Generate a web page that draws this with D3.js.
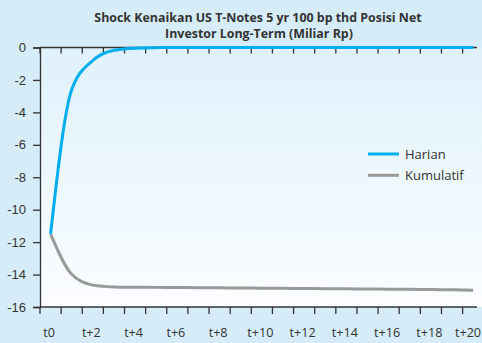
<!DOCTYPE html>
<html>
<head>
<meta charset="utf-8">
<script src="https://cdn.jsdelivr.net/npm/d3@7"></script>
<style>
  body { margin: 0; background: #d6ecf8; }
  svg { display: block; }
</style>
</head>
<body>
<script>
/*data*/
const periods = ['t0','t+1','t+2','t+3','t+4','t+5','t+6','t+7','t+8','t+9','t+10',
  't+11','t+12','t+13','t+14','t+15','t+16','t+17','t+18','t+19','t+20'];
const harian = [-11.5, -2.6, -0.8, -0.17, -0.04, -0.01, 0, 0, 0, 0, 0,
  0, 0, 0, 0, 0, 0, 0, 0, 0, 0];
const kumulatif = [-11.5, -13.98, -14.65, -14.76, -14.78, -14.79, -14.8, -14.81, -14.82, -14.83, -14.84,
  -14.85, -14.86, -14.87, -14.88, -14.89, -14.9, -14.91, -14.92, -14.94, -14.96];
const yTicks = [0, -2, -4, -6, -8, -10, -12, -14, -16];
const seriesNames = ['Harian', 'Kumulatif'];
const colors = ['#00aeef', '#999999'];

/*canvas size*/
const width = 482;
const height = 343;
const padding = { top: 47.5, bottom: 36, left: 40, right: 0 };

const svg = d3.select('body')
  .append('svg')
  .attr('width', width)
  .attr('height', height)
  .style('font-family', '"Open Sans", sans-serif');

/*plot background*/
const grad = svg.append('defs').append('linearGradient')
  .attr('id', 'bg').attr('x1', 0).attr('y1', 0).attr('x2', 0).attr('y2', 1);
grad.append('stop').attr('offset', '0%').attr('stop-color', '#dff1fb');
grad.append('stop').attr('offset', '100%').attr('stop-color', '#fbfdff');

/*scales*/
const step = 21.13;
const xScale = d3.scaleBand()
  .domain(periods)
  .range([padding.left, padding.left + step * periods.length])
  .padding(0);
const yScale = d3.scaleLinear()
  .domain([-16, 0])
  .range([height - padding.bottom, padding.top]);

svg.append('rect')
  .attr('x', padding.left).attr('y', yScale(0))
  .attr('width', width - padding.left).attr('height', yScale(-16) - yScale(0))
  .attr('fill', 'url(#bg)');

const axisColor = '#333333';

/*y axis*/
const yAxis = svg.append('g')
  .attr('transform', `translate(${padding.left},0)`)
  .call(d3.axisLeft(yScale).tickValues(yTicks).tickSize(7).tickPadding(7).tickFormat(d => d));
yAxis.select('.domain').attr('stroke', axisColor).attr('stroke-width', 1.3);
yAxis.selectAll('line').attr('stroke', axisColor).attr('stroke-width', 1.3);
yAxis.selectAll('text').attr('font-size', 13).attr('fill', '#333');

/*x axis boundaries (ticks between categories)*/
const bounds = periods.map(p => xScale(p));
const xMaxLine = 477;

function drawTicks(y, len) {
  svg.append('g').selectAll('line').data(bounds).enter().append('line')
    .attr('x1', d => d).attr('x2', d => d)
    .attr('y1', y).attr('y2', y + len)
    .attr('stroke', axisColor).attr('stroke-width', 1.3);
  svg.append('line')
    .attr('x1', padding.left).attr('x2', xMaxLine)
    .attr('y1', y).attr('y2', y)
    .attr('stroke', axisColor).attr('stroke-width', 1.3);
}
drawTicks(yScale(0), 6);
drawTicks(yScale(-16), 7);

/*x labels*/
svg.append('g').selectAll('text')
  .data(periods.filter((d, i) => i % 2 === 0))
  .enter().append('text')
  .attr('x', d => Math.min(xScale(d) + xScale.bandwidth() / 2 - 1.5, 468))
  .attr('y', 337)
  .attr('text-anchor', 'middle')
  .attr('font-size', 12.6)
  .attr('fill', '#333')
  .text(d => d);

/*lines*/
const line = d3.line()
  .x((d, i) => xScale(periods[i]) + xScale.bandwidth() / 2)
  .y(d => yScale(d))
  .curve(d3.curveMonotoneX);

[kumulatif, harian].forEach((s, k) => {
  svg.append('path').datum(s)
    .attr('fill', 'none')
    .attr('stroke', k === 0 ? colors[1] : colors[0])
    .attr('stroke-width', 3)
    .attr('d', line);
});

/*legend*/
const legend = svg.append('g');
seriesNames.forEach((name, i) => {
  const y = 154 + i * 21.3;
  legend.append('line')
    .attr('x1', 368).attr('x2', 399).attr('y1', y).attr('y2', y)
    .attr('stroke', colors[i]).attr('stroke-width', 3);
  legend.append('text')
    .attr('x', 405).attr('y', y + 4.5)
    .attr('font-size', 13).attr('fill', '#333')
    .text(name);
});

/*title*/
const title = svg.append('text')
  .attr('text-anchor', 'middle')
  .attr('font-size', 12.4)
  .attr('font-weight', 'bold')
  .attr('fill', '#333');
title.append('tspan').attr('x', 258).attr('y', 22).text('Shock Kenaikan US T-Notes 5 yr 100 bp thd Posisi Net');
title.append('tspan').attr('x', 259).attr('y', 37.8).text('Investor Long-Term (Miliar Rp)');
</script>
</body>
</html>
